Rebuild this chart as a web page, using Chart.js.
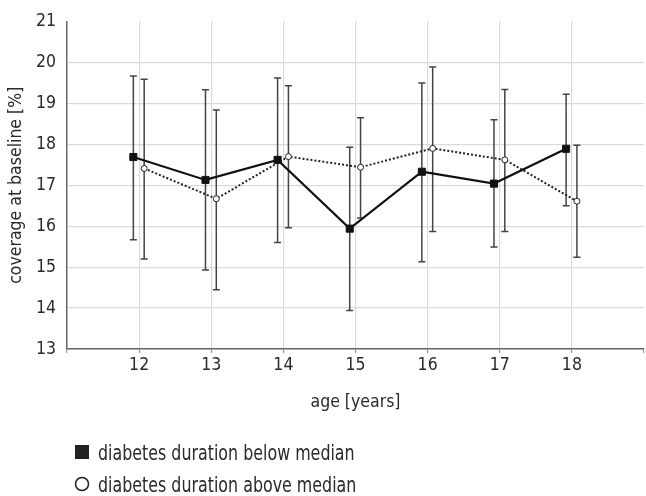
<!DOCTYPE html>
<html><head><meta charset="utf-8">
<script src="https://cdn.jsdelivr.net/npm/chart.js@4"></script>
<style>html,body{margin:0;padding:0;overflow:hidden;background:#fff}canvas{display:block}</style>
</head><body>
<canvas id="c" width="650" height="496" style="width:650px;height:496px"></canvas>
<script>
const ages = [12, 13, 14, 15, 16, 17, 18];
const belowMean = [17.69, 17.13, 17.62, 15.94, 17.33, 17.04, 17.89];
const belowLow  = [15.67, 14.93, 15.60, 13.94, 15.13, 15.49, 16.50];
const belowHigh = [19.67, 19.33, 19.62, 17.93, 19.50, 18.60, 19.22];
const aboveMean = [17.41, 16.67, 17.70, 17.44, 17.90, 17.62, 16.61];
const aboveLow  = [15.20, 14.45, 15.96, 16.20, 15.87, 15.87, 15.24];
const aboveHigh = [19.59, 18.84, 19.43, 18.65, 19.89, 19.34, 17.98];
const yTicks = [13, 14, 15, 16, 17, 18, 19, 20, 21];
const xTicks = [12, 13, 14, 15, 16, 17, 18];
const seriesNames = ['diabetes duration below median', 'diabetes duration above median'];
const xTitle = 'age [years]';
const yTitle = 'coverage at baseline [%]';

const OFF_BELOW = -0.08, OFF_ABOVE = 0.07;
const FONT = "'Liberation Sans Narrow', 'DejaVu Sans Condensed', 'Liberation Sans', sans-serif";
const TXT = '#2a2a2a';
Chart.defaults.font.family = FONT;
Chart.defaults.color = TXT;

const errorBars = {
  id: 'errorBars',
  beforeDatasetsDraw(chart) {
    const {ctx, scales: {x, y}} = chart;
    const sets = [[OFF_BELOW, belowLow, belowHigh], [OFF_ABOVE, aboveLow, aboveHigh]];
    ctx.save();
    ctx.strokeStyle = '#444';
    ctx.lineWidth = 1.5;
    sets.forEach(([off, lo, hi]) => {
      ages.forEach((a, i) => {
        const px = x.getPixelForValue(a + off);
        const p1 = y.getPixelForValue(lo[i]);
        const p2 = y.getPixelForValue(hi[i]);
        ctx.beginPath();
        ctx.moveTo(px, p1); ctx.lineTo(px, p2);
        ctx.moveTo(px - 3.5, p1); ctx.lineTo(px + 3.5, p1);
        ctx.moveTo(px - 3.5, p2); ctx.lineTo(px + 3.5, p2);
        ctx.stroke();
      });
    });
    ctx.restore();
  }
};

const legendPlugin = {
  id: 'customLegend',
  afterDraw(chart) {
    const ctx = chart.ctx;
    ctx.save();
    ctx.fillStyle = '#222';
    ctx.fillRect(75, 445, 14, 14);
    ctx.strokeStyle = '#222';
    ctx.lineWidth = 1.5;
    ctx.beginPath();
    ctx.arc(82, 484, 6.5, 0, Math.PI * 2);
    ctx.stroke();
    ctx.fillStyle = TXT;
    ctx.font = "21px " + FONT;
    ctx.textBaseline = 'alphabetic';
    ctx.textAlign = 'left';
    const sx = 0.84;
    ctx.scale(sx, 1);
    ctx.fillText(seriesNames[0], 98 / sx, 459.5);
    ctx.fillText(seriesNames[1], 98 / sx, 491.5);
    ctx.restore();
  }
};

new Chart(document.getElementById('c'), {
  type: 'line',
  data: {
    datasets: [
      {
        label: seriesNames[0],
        data: ages.map((a, i) => ({x: a + OFF_BELOW, y: belowMean[i]})),
        borderColor: '#111', borderWidth: 2.2,
        pointStyle: 'rect', pointRadius: 5,
        pointBackgroundColor: '#111', pointBorderColor: '#111', pointBorderWidth: 1,
        tension: 0
      },
      {
        label: seriesNames[1],
        data: ages.map((a, i) => ({x: a + OFF_ABOVE, y: aboveMean[i]})),
        borderColor: '#222', borderWidth: 2, borderDash: [2, 2],
        pointStyle: 'circle', pointRadius: 3,
        pointBackgroundColor: '#fff', pointBorderColor: '#222', pointBorderWidth: 1,
        tension: 0
      }
    ]
  },
  options: {
    responsive: false,
    animation: false,
    layout: {padding: {top: 18, left: 0, right: 0, bottom: 0}},
    plugins: {legend: {display: false}, tooltip: {enabled: false}},
    scales: {
      x: {
        type: 'linear', min: 11, max: 19,
        afterFit(s) { s.height = 147; },
        afterBuildTicks(s) { s.ticks = [11].concat(xTicks, [19]).map(v => ({value: v})); },
        ticks: {
          callback: v => xTicks.includes(v) ? String(v) : '',
          font: {size: 17.5}, color: TXT, padding: 2, maxRotation: 0, autoSkip: false
        },
        grid: {
          color: c => (c.tick && xTicks.includes(c.tick.value)) ? '#dadada' : 'rgba(0,0,0,0)',
          lineWidth: 1.2, tickLength: 4, tickColor: '#999'
        },
        border: {color: '#666', width: 1.5},
        title: {display: true, text: xTitle, font: {size: 17.5}, color: TXT, padding: {top: 0, bottom: 83.5}}
      },
      y: {
        type: 'linear', min: 13, max: 21,
        afterFit(s) { s.width = 67; },
        afterBuildTicks(s) { s.ticks = yTicks.map(v => ({value: v})); },
        ticks: {font: {size: 17.5}, color: TXT, padding: 11},
        grid: {
          color: c => (c.tick && c.tick.value === 21) ? 'rgba(0,0,0,0)' : '#dadada',
          lineWidth: 1.2, drawTicks: false
        },
        border: {color: '#666', width: 1.5},
        title: {display: true, text: yTitle, font: {size: 17.5}, color: TXT, padding: {top: 6, bottom: 0}}
      }
    }
  },
  plugins: [errorBars, legendPlugin]
});
</script>
</body></html>
